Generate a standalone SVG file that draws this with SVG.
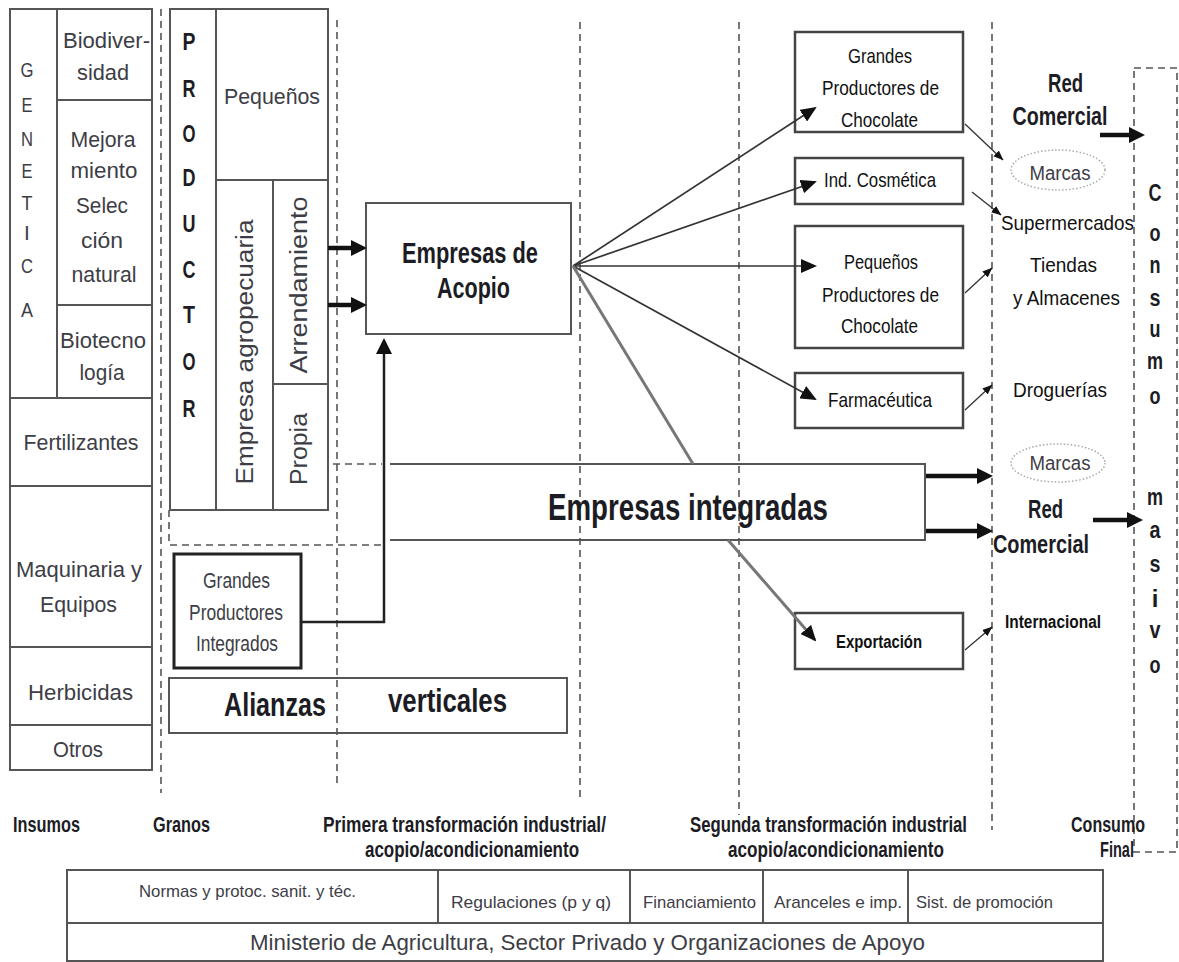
<svg xmlns="http://www.w3.org/2000/svg" width="1179" height="962" viewBox="0 0 1179 962">
<style>
  .box{fill:none;stroke:#555;stroke-width:2}
  .rbox{fill:#fff;stroke:#444;stroke-width:2.5}
  .guide{fill:none;stroke:#555;stroke-width:1.6;stroke-dasharray:7 5}
  .t{font-family:"Liberation Sans",Arial,sans-serif;fill:#3d3d46}
  .tb{font-family:"Liberation Sans",Arial,sans-serif;font-weight:bold;fill:#1c1c24}
  .tn{font-family:"Liberation Sans",Arial,sans-serif;fill:#111}
  .m{text-anchor:middle}
  .thick{fill:none;stroke:#111;stroke-width:4.5}
  .mid{fill:none;stroke:#333;stroke-width:1.7}
  .thin{fill:none;stroke:#333;stroke-width:1.3}
  .marca{fill:none;stroke:#aaa;stroke-width:1.5;stroke-dasharray:1.5 2}
</style>
<defs>
  <marker id="ahThick" viewBox="0 0 16 16" markerWidth="16" markerHeight="16" markerUnits="userSpaceOnUse" refX="6" refY="8" orient="auto">
    <path d="M0,0 L16,8 L0,16 z" fill="#111"/>
  </marker>
  <marker id="ahMid" viewBox="0 0 16 14" markerWidth="16" markerHeight="14" markerUnits="userSpaceOnUse" refX="14" refY="7" orient="auto">
    <path d="M0,0 L16,7 L0,14 z" fill="#111"/>
  </marker>
  <marker id="ahSmall" viewBox="0 0 10 8" markerWidth="10" markerHeight="8" markerUnits="userSpaceOnUse" refX="9.5" refY="4" orient="auto">
    <path d="M0,0 L10,4 L0,8 z" fill="#111"/>
  </marker>
</defs>
<rect width="1179" height="962" fill="#fff"/>

<!-- stage separators -->
<g id="guides">
  <path class="guide" d="M161,9 V793 M337,20 V785 M580,22 V800 M739,22 V815 M992,22 V830"/>
  <path class="guide" d="M169,510 V545 H382 M333,464 H382"/>
</g>

<!-- inputs column -->
<g id="genetica">
  <rect class="box" x="10" y="9" width="47" height="389"/>
  <g class="t m" font-size="21">
    <text x="27" y="77" textLength="13" lengthAdjust="spacingAndGlyphs">G</text>
    <text x="27" y="112" textLength="11" lengthAdjust="spacingAndGlyphs">E</text>
    <text x="27" y="146" textLength="12" lengthAdjust="spacingAndGlyphs">N</text>
    <text x="27" y="178" textLength="11" lengthAdjust="spacingAndGlyphs">E</text>
    <text x="27" y="210" textLength="11" lengthAdjust="spacingAndGlyphs">T</text>
    <text x="27" y="240">I</text>
    <text x="27" y="273" textLength="12" lengthAdjust="spacingAndGlyphs">C</text>
    <text x="27" y="317" textLength="12" lengthAdjust="spacingAndGlyphs">A</text>
  </g>
</g>
<g id="biodiversidad">
  <rect class="box" x="57" y="9" width="95" height="91"/>
  <text class="t m" font-size="22" x="106.5" y="48" textLength="87" lengthAdjust="spacingAndGlyphs">Biodiver-</text>
  <text class="t m" font-size="22" x="103" y="80" textLength="52" lengthAdjust="spacingAndGlyphs">sidad</text>
</g>
<g id="mejoramiento">
  <rect class="box" x="57" y="100" width="95" height="205"/>
  <g class="t m" font-size="22">
    <text x="103" y="147" textLength="65" lengthAdjust="spacingAndGlyphs">Mejora</text>
    <text x="104" y="178" textLength="67" lengthAdjust="spacingAndGlyphs">miento</text>
    <text x="102" y="213" textLength="52" lengthAdjust="spacingAndGlyphs">Selec</text>
    <text x="102" y="248" textLength="42" lengthAdjust="spacingAndGlyphs">ción</text>
    <text x="104" y="282" textLength="65" lengthAdjust="spacingAndGlyphs">natural</text>
  </g>
</g>
<g id="biotecnologia">
  <rect class="box" x="57" y="305" width="95" height="93"/>
  <text class="t m" font-size="22" x="103" y="348" textLength="86" lengthAdjust="spacingAndGlyphs">Biotecno</text>
  <text class="t m" font-size="22" x="102" y="380" textLength="45" lengthAdjust="spacingAndGlyphs">logía</text>
</g>
<g id="fertilizantes">
  <rect class="box" x="10" y="398" width="142" height="88"/>
  <text class="t m" font-size="22" x="81" y="450" textLength="115" lengthAdjust="spacingAndGlyphs">Fertilizantes</text>
</g>
<g id="maquinaria">
  <rect class="box" x="10" y="486" width="142" height="161"/>
  <text class="t m" font-size="22" x="79" y="577" textLength="126" lengthAdjust="spacingAndGlyphs">Maquinaria y</text>
  <text class="t m" font-size="22" x="78.5" y="612" textLength="77" lengthAdjust="spacingAndGlyphs">Equipos</text>
</g>
<g id="herbicidas">
  <rect class="box" x="10" y="647" width="142" height="78"/>
  <text class="t m" font-size="22" x="80.5" y="700" textLength="105" lengthAdjust="spacingAndGlyphs">Herbicidas</text>
</g>
<g id="otros">
  <rect class="box" x="10" y="725" width="142" height="45"/>
  <text class="t m" font-size="22" x="78" y="757" textLength="50" lengthAdjust="spacingAndGlyphs">Otros</text>
</g>

<!-- producer block -->
<g id="productor">
  <rect class="box" x="170" y="9" width="46" height="501"/>
  <g class="tb m" font-size="24" fill="#111">
    <text x="189" y="50" textLength="13" lengthAdjust="spacingAndGlyphs">P</text>
    <text x="189" y="97" textLength="13" lengthAdjust="spacingAndGlyphs">R</text>
    <text x="189" y="142" textLength="13" lengthAdjust="spacingAndGlyphs">O</text>
    <text x="189" y="186" textLength="13" lengthAdjust="spacingAndGlyphs">D</text>
    <text x="189" y="232" textLength="13" lengthAdjust="spacingAndGlyphs">U</text>
    <text x="189" y="278" textLength="13" lengthAdjust="spacingAndGlyphs">C</text>
    <text x="189" y="323" textLength="12" lengthAdjust="spacingAndGlyphs">T</text>
    <text x="189" y="370" textLength="13" lengthAdjust="spacingAndGlyphs">O</text>
    <text x="189" y="417" textLength="13" lengthAdjust="spacingAndGlyphs">R</text>
  </g>
</g>
<g id="pequenos">
  <rect class="box" x="216" y="9" width="112" height="171"/>
  <text class="t m" font-size="22" x="272" y="104" textLength="96" lengthAdjust="spacingAndGlyphs">Pequeños</text>
</g>
<g id="empresa-agropecuaria">
  <rect class="box" x="216" y="180" width="57" height="330"/>
  <text class="t m" font-size="23" transform="translate(253,352) rotate(-90)" textLength="265" lengthAdjust="spacingAndGlyphs">Empresa agropecuaria</text>
</g>
<g id="arrendamiento">
  <rect class="box" x="273" y="180" width="55" height="204"/>
  <text class="t m" font-size="23" transform="translate(307,285) rotate(-90)" textLength="177" lengthAdjust="spacingAndGlyphs">Arrendamiento</text>
</g>
<g id="propia">
  <rect class="box" x="273" y="384" width="55" height="126"/>
  <text class="t m" font-size="23" transform="translate(307,449) rotate(-90)" textLength="72" lengthAdjust="spacingAndGlyphs">Propia</text>
</g>

<g id="grandes-productores-integrados">
  <rect x="174" y="554" width="127" height="114" fill="none" stroke="#222" stroke-width="3"/>
  <g class="t m" font-size="22">
    <text x="236.5" y="588" textLength="67" lengthAdjust="spacingAndGlyphs">Grandes</text>
    <text x="236" y="620" textLength="94" lengthAdjust="spacingAndGlyphs">Productores</text>
    <text x="237" y="651" textLength="82" lengthAdjust="spacingAndGlyphs">Integrados</text>
  </g>
</g>

<g id="alianzas-verticales">
  <rect class="box" x="169" y="678" width="398" height="55"/>
  <text class="tb" font-size="34" x="224" y="716" textLength="102" lengthAdjust="spacingAndGlyphs">Alianzas</text>
  <text class="tb" font-size="34" x="388" y="712" textLength="119" lengthAdjust="spacingAndGlyphs">verticales</text>
</g>

<g id="empresas-acopio">
  <rect class="box" x="366" y="203" width="205" height="131"/>
  <text class="tb m" font-size="29" x="470" y="263" textLength="136" lengthAdjust="spacingAndGlyphs">Empresas de</text>
  <text class="tb m" font-size="29" x="473.5" y="298" textLength="73" lengthAdjust="spacingAndGlyphs">Acopio</text>
</g>

<g id="empresas-integradas">
  <path class="box" d="M390,464 H925 V540 H390"/>
  <text class="tb" font-size="37" x="548" y="520" textLength="280" lengthAdjust="spacingAndGlyphs">Empresas integradas</text>
</g>

<!-- second transformation -->
<g id="grandes-chocolate">
  <rect class="rbox" x="795" y="32" width="168" height="100"/>
  <g class="tn m" font-size="21">
    <text x="880" y="63" textLength="64" lengthAdjust="spacingAndGlyphs">Grandes</text>
    <text x="880.5" y="95" textLength="117" lengthAdjust="spacingAndGlyphs">Productores de</text>
    <text x="879.5" y="127" textLength="77" lengthAdjust="spacingAndGlyphs">Chocolate</text>
  </g>
</g>
<g id="cosmetica">
  <rect class="rbox" x="795" y="158" width="168" height="46"/>
  <text class="tn m" font-size="21" x="880" y="187" textLength="112" lengthAdjust="spacingAndGlyphs">Ind. Cosmética</text>
</g>
<g id="pequenos-chocolate">
  <rect class="rbox" x="795" y="226" width="168" height="122"/>
  <g class="tn m" font-size="21">
    <text x="881" y="269" textLength="74" lengthAdjust="spacingAndGlyphs">Pequeños</text>
    <text x="880.5" y="302" textLength="117" lengthAdjust="spacingAndGlyphs">Productores de</text>
    <text x="879.5" y="333" textLength="77" lengthAdjust="spacingAndGlyphs">Chocolate</text>
  </g>
</g>
<g id="farmaceutica">
  <rect class="rbox" x="795" y="373" width="168" height="55"/>
  <text class="tn m" font-size="21" x="880" y="407" textLength="104" lengthAdjust="spacingAndGlyphs">Farmacéutica</text>
</g>
<g id="exportacion">
  <rect class="rbox" x="795" y="613" width="168" height="56"/>
  <text class="tn m" font-size="18" font-weight="bold" x="879" y="648" textLength="86" lengthAdjust="spacingAndGlyphs">Exportación</text>
</g>

<!-- commercial network -->
<g id="red-comercial-1">
  <text class="tb m" font-size="26" fill="#111" x="1065.5" y="92" textLength="35" lengthAdjust="spacingAndGlyphs">Red</text>
  <text class="tb m" font-size="26" fill="#111" x="1060" y="125" textLength="95" lengthAdjust="spacingAndGlyphs">Comercial</text>
</g>
<g id="marcas-1">
  <ellipse class="marca" cx="1058" cy="170" rx="47" ry="20"/>
  <text class="t m" font-size="20" fill="#777" x="1060" y="180" textLength="61" lengthAdjust="spacingAndGlyphs">Marcas</text>
</g>
<g id="supermercados">
  <text class="tn m" font-size="21" x="1067.5" y="230" textLength="133" lengthAdjust="spacingAndGlyphs">Supermercados</text>
</g>
<g id="tiendas">
  <text class="tn m" font-size="21" x="1063.5" y="272" textLength="67" lengthAdjust="spacingAndGlyphs">Tiendas</text>
  <text class="tn m" font-size="21" x="1066.5" y="305" textLength="107" lengthAdjust="spacingAndGlyphs">y Almacenes</text>
</g>
<g id="droguerias">
  <text class="tn m" font-size="21" x="1060" y="397" textLength="94" lengthAdjust="spacingAndGlyphs">Droguerías</text>
</g>
<g id="marcas-2">
  <ellipse class="marca" cx="1058" cy="463" rx="47" ry="19"/>
  <text class="t m" font-size="20" fill="#777" x="1060" y="470" textLength="61" lengthAdjust="spacingAndGlyphs">Marcas</text>
</g>
<g id="red-comercial-2">
  <text class="tb m" font-size="26" fill="#111" x="1045.5" y="518" textLength="35" lengthAdjust="spacingAndGlyphs">Red</text>
  <text class="tb m" font-size="26" fill="#111" x="1041" y="553" textLength="96" lengthAdjust="spacingAndGlyphs">Comercial</text>
</g>
<g id="internacional">
  <text class="tn m" font-size="18" font-weight="bold" x="1053" y="628" textLength="96" lengthAdjust="spacingAndGlyphs">Internacional</text>
</g>

<g id="consumo-masivo">
  <rect class="guide" x="1134" y="68" width="43" height="784"/>
  <g class="tb m" font-size="24" fill="#1d1d38">
    <text x="1155" y="201" textLength="13" lengthAdjust="spacingAndGlyphs">C</text>
    <text x="1155" y="241" textLength="11" lengthAdjust="spacingAndGlyphs">o</text>
    <text x="1155" y="273" textLength="11" lengthAdjust="spacingAndGlyphs">n</text>
    <text x="1155" y="306" textLength="11" lengthAdjust="spacingAndGlyphs">s</text>
    <text x="1155" y="337" textLength="11" lengthAdjust="spacingAndGlyphs">u</text>
    <text x="1155" y="369" textLength="16" lengthAdjust="spacingAndGlyphs">m</text>
    <text x="1155" y="404" textLength="11" lengthAdjust="spacingAndGlyphs">o</text>
    <text x="1155" y="505" textLength="16" lengthAdjust="spacingAndGlyphs">m</text>
    <text x="1155" y="538" textLength="11" lengthAdjust="spacingAndGlyphs">a</text>
    <text x="1155" y="572" textLength="11" lengthAdjust="spacingAndGlyphs">s</text>
    <text x="1155" y="607">i</text>
    <text x="1155" y="638" textLength="11" lengthAdjust="spacingAndGlyphs">v</text>
    <text x="1155" y="673" textLength="11" lengthAdjust="spacingAndGlyphs">o</text>
  </g>
</g>

<!-- connectors -->
<g id="connectors">
  <path class="thick" stroke-width="3.5" d="M328,248 H357" marker-end="url(#ahThick)"/>
  <path class="thick" stroke-width="3.5" d="M328,305 H357" marker-end="url(#ahThick)"/>
  <path fill="none" stroke="#222" stroke-width="2.5" d="M302,622 H384 V348" marker-end="url(#ahThick)"/>
  <path class="mid" d="M573,266 L815,108" marker-end="url(#ahMid)"/>
  <path class="mid" d="M573,266 L815,182" marker-end="url(#ahMid)"/>
  <path class="mid" d="M573,266 L815,266" marker-end="url(#ahMid)"/>
  <path class="mid" d="M573,266 L815,399" marker-end="url(#ahMid)"/>
  <path fill="none" stroke="#777" stroke-width="3" d="M573,266 L693,464 M728,540 L815,640" marker-end="url(#ahMid)"/>
  <path class="thin" d="M965,124 L1003,160" marker-end="url(#ahSmall)"/>
  <path class="thin" d="M972,192 L1001,215" marker-end="url(#ahSmall)"/>
  <path class="thin" d="M965,293 L992,268" marker-end="url(#ahSmall)"/>
  <path class="thin" d="M965,410 L992,385" marker-end="url(#ahSmall)"/>
  <path class="thin" d="M965,650 L992,627" marker-end="url(#ahSmall)"/>
  <path class="thick" d="M926,476 H983" marker-end="url(#ahThick)"/>
  <path class="thick" d="M926,531 H983" marker-end="url(#ahThick)"/>
  <path class="thick" d="M1100,135 H1135" marker-end="url(#ahThick)"/>
  <path class="thick" d="M1093,520 H1133" marker-end="url(#ahThick)"/>
</g>

<!-- stage labels -->
<g id="stage-labels" class="tb" font-size="22" fill="#222">
  <text x="13" y="832" textLength="67" lengthAdjust="spacingAndGlyphs">Insumos</text>
  <text x="153" y="832" textLength="57" lengthAdjust="spacingAndGlyphs">Granos</text>
  <text x="323" y="832" textLength="283" lengthAdjust="spacingAndGlyphs">Primera transformación industrial/</text>
  <text x="365" y="857" textLength="214" lengthAdjust="spacingAndGlyphs">acopio/acondicionamiento</text>
  <text x="690" y="832" textLength="277" lengthAdjust="spacingAndGlyphs">Segunda transformación industrial</text>
  <text x="728" y="857" textLength="216" lengthAdjust="spacingAndGlyphs">acopio/acondicionamiento</text>
  <text x="1071" y="832" textLength="74" lengthAdjust="spacingAndGlyphs">Consumo</text>
  <text x="1100" y="857" textLength="34" lengthAdjust="spacingAndGlyphs">Final</text>
</g>

<!-- support framework table -->
<g id="marco-apoyo">
  <rect class="box" x="67" y="870" width="1036" height="91"/>
  <path class="box" d="M67,923 H1103 M438,870 V923 M630,870 V923 M763,870 V923 M908,870 V923"/>
  <g class="t m" font-size="17" fill="#555">
    <text x="247.5" y="897" textLength="217" lengthAdjust="spacingAndGlyphs">Normas y protoc. sanit. y téc.</text>
    <text x="531" y="908" textLength="160" lengthAdjust="spacingAndGlyphs">Regulaciones (p y q)</text>
    <text x="699.5" y="908" textLength="113" lengthAdjust="spacingAndGlyphs">Financiamiento</text>
    <text x="838" y="908" textLength="128" lengthAdjust="spacingAndGlyphs">Aranceles e imp.</text>
    <text x="984.5" y="908" textLength="137" lengthAdjust="spacingAndGlyphs">Sist. de promoción</text>
  </g>
  <text class="t m" font-size="22" fill="#444" x="587.5" y="950" textLength="675" lengthAdjust="spacingAndGlyphs">Ministerio de Agricultura, Sector Privado y Organizaciones de Apoyo</text>
</g>
</svg>
